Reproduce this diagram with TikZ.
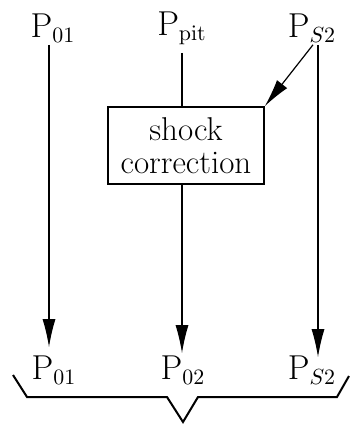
\documentclass[tikz,border=0pt]{standalone}
\usepackage{amsmath}
\usetikzlibrary{arrows.meta,positioning}

\begin{document}
\begin{tikzpicture}[
  x=0.5pt, y=-0.5pt,
  font=\fontsize{16}{18}\selectfont,
  lbl/.style={inner sep=2pt},
  box/.style={draw, line width=0.8pt, align=center, minimum width=78pt, minimum height=38.5pt,
    inner sep=2pt, font=\fontsize{16.5}{16.5}\selectfont},
  arr/.style={-{Latex[length=14pt,width=6.5pt]}, line width=0.6pt}
]
\useasboundingbox (0,0) rectangle (349,424);

% inputs
\node[lbl] (top01)  at (53,28)  {$\mathrm{P}_{01}$};
\node[lbl] (toppit) at (182,28) {$\mathrm{P}_{\mathrm{pit}}$};
\node[lbl] (tops2)  at (312,28) {$\mathrm{P}_{S2}$};

\node[box] (shock) at (186,145.5) {shock\\correction};

% outputs
\node[lbl] (bot01) at (54,370)  {$\mathrm{P}_{01}$};
\node[lbl] (bot02) at (183,370) {$\mathrm{P}_{02}$};
\node[lbl] (bots2) at (312,370) {$\mathrm{P}_{S2}$};

\draw[arr] ([xshift=-2pt,yshift=1pt]top01.south) -- ([xshift=-2.5pt,yshift=2pt]bot01.north);
\draw[line width=0.6pt] ([yshift=-2pt]toppit.south) -- (toppit.south |- shock.north);
\draw[arr] (toppit.south |- shock.south) -- ([xshift=-0.5pt,yshift=-1pt]bot02.north);
\draw[arr] ([xshift=3pt,yshift=1pt]tops2.south) -- ([xshift=3pt,yshift=-3pt]bots2.north);
\draw[arr] ([xshift=0.5pt,yshift=1pt]tops2.south) -- (shock.north east);

% brace under the outputs
\draw[line width=1pt, line join=miter]
  (13,375) -- (27,397) -- (167,397) -- (183,422) -- (198,397) -- (337,397) -- (349,376);
\end{tikzpicture}
\end{document}
